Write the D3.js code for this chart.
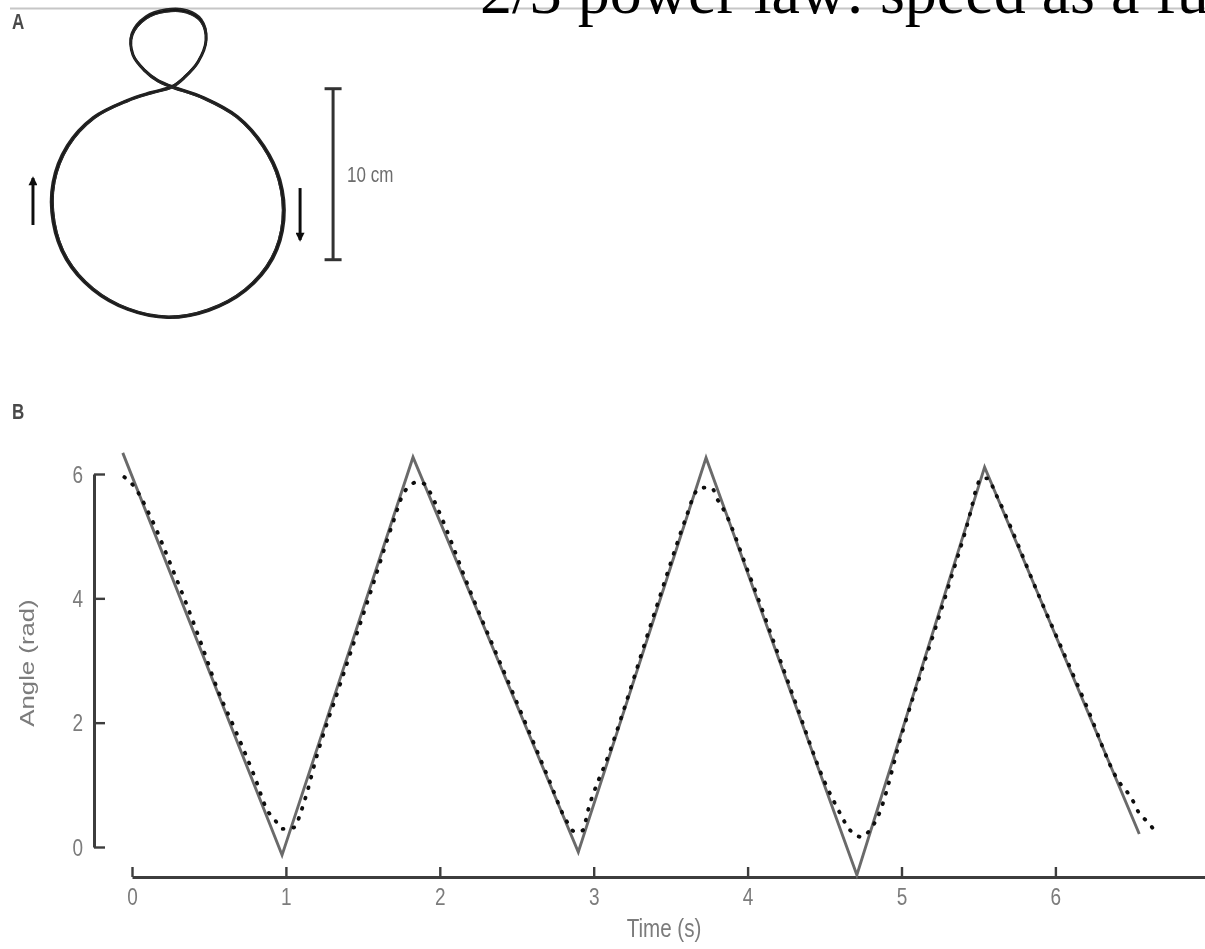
<!DOCTYPE html>
<html>
<head>
<meta charset="utf-8">
<script src="https://cdn.jsdelivr.net/npm/d3@7"></script>
<style>
  html, body { margin: 0; padding: 0; background: #fff; overflow: hidden; }
  svg { display: block; }
</style>
</head>
<body>
<svg id="fig" width="1205" height="949"></svg>
<script>
// ---------- Panel A: pen trajectory (cm, origin at the crossing point, y up) ----------
const traceX = [0, 1.87, 3.80, 5.32, 6.26, 6.49, 5.85, 4.27, 2.11, -0.23, -2.57, -4.62, -6.14, -6.90, -6.90, -6.08, -4.56, -2.63, -1.23,
                0, 0.70, 1.52, 1.99, 1.70, 0.88, -0.35, -1.52, -2.34, -2.28, -1.58, -0.82];
const traceY = [0, -0.66, -1.75, -3.45, -5.44, -7.78, -10.00, -11.87, -13.04, -13.45, -12.98, -11.81, -10.06, -7.89, -5.56, -3.45, -1.80, -0.82, -0.35,
                0, 0.53, 1.46, 2.75, 3.86, 4.39, 4.44, 4.04, 3.04, 1.87, 0.94, 0.35];

// direction arrows: x position, tail y, head y (cm)
const arrowX = [-8.13, 7.49];
const arrowTail = [-8.07, -5.91];
const arrowHead = [-5.32, -8.95];

// scale bar (cm)
const barX = 9.42;
const barFrom = -0.1;
const barLength = 10;
const barLabel = "10 cm";

// ---------- Panel B: angle vs time ----------
// piecewise-linear model prediction (vertices)
const modelTime  = [-0.06, 0.975, 1.826, 2.90, 3.73, 4.71, 5.54, 6.545];
const modelAngle = [6.34, -0.13, 6.27, -0.08, 6.26, -0.45, 6.11, 0.21];

// measured angle
const measTime  = [-0.05, 0.007, 0.13, 0.26, 0.344, 0.46, 0.55, 0.68, 0.80, 0.877, 0.93, 0.975, 1.06, 1.09, 1.14, 1.19,
                   1.35, 1.55, 1.70, 1.76, 1.80, 1.85, 1.90, 1.94, 1.985, 2.2, 2.5, 2.7, 2.83, 2.88, 2.93, 2.96,
                   3.1, 3.4, 3.6, 3.66, 3.68, 3.73, 3.77, 3.80, 3.85, 4.0, 4.3, 4.5, 4.61, 4.65, 4.70, 4.74, 4.78, 4.85,
                   5.0, 5.3, 5.45, 5.49, 5.52, 5.56, 5.61, 5.9, 6.2, 6.4, 6.50, 6.54, 6.60, 6.63];
const measAngle = [5.95, 5.82, 5.26, 4.49, 3.97, 3.2, 2.57, 1.83, 1.11, 0.6, 0.43, 0.29, 0.32, 0.51, 0.9, 1.37,
                   2.6, 4.1, 5.25, 5.67, 5.8, 5.87, 5.84, 5.69, 5.45, 4.1, 2.33, 1.14, 0.39, 0.24, 0.27, 0.56,
                   1.5, 3.8, 5.3, 5.7, 5.77, 5.78, 5.77, 5.61, 5.4, 4.45, 2.4, 1.05, 0.5, 0.32, 0.2, 0.16, 0.23, 0.51,
                   1.8, 4.15, 5.4, 5.8, 5.93, 5.93, 5.69, 4.0, 2.28, 1.1, 0.76, 0.56, 0.40, 0.31];

const timeTicks = [0, 1, 2, 3, 4, 5, 6];
const angleTicks = [0, 2, 4, 6];
const xTitle = "Time (s)";
const yTitle = "Angle (rad)";
const panelLabels = ["A", "B"];
const pageTitle = "2/3 power law: speed as a function of curvature";

// ---------- drawing ----------
const svg = d3.select("#fig");
const SANS = "'Liberation Sans', Arial, Helvetica, sans-serif";
const STRETCH = 1.25;           // figure text is set slightly tall
const LABEL_GREY = "#7b7b7b";
const AXIS_GREY = "#3d3d3d";

const defs = svg.append("defs");
defs.append("filter").attr("id", "soft")
  .attr("x", "-5%").attr("y", "-5%").attr("width", "110%").attr("height", "110%")
  .append("feGaussianBlur").attr("stdDeviation", 0.55);
defs.append("marker").attr("id", "head")
  .attr("viewBox", "0 0 10 10").attr("refX", 8).attr("refY", 5)
  .attr("markerWidth", 3.4).attr("markerHeight", 3.0).attr("markerUnits", "strokeWidth")
  .attr("orient", "auto")
  .append("path").attr("d", "M0,0 L10,5 L0,10 Z").attr("fill", "#111");

// header rule and title
svg.append("line")
  .attr("x1", 10).attr("x2", 1205).attr("y1", 8.5).attr("y2", 8.5)
  .attr("stroke", "#c6c6c6").attr("stroke-width", 2);
svg.append("text")
  .attr("x", 480).attr("y", 13)
  .attr("font-family", "'Liberation Serif', 'Times New Roman', serif")
  .attr("font-size", 64).attr("fill", "#000")
  .text(pageTitle);

const fig = svg.append("g").attr("filter", "url(#soft)");

function tallText(sel, x, y, extra) {
  return sel.attr("transform", `translate(${x},${y}) scale(1,${STRETCH})` + (extra || ""));
}

// ---- panel A ----
const pxPerCm = 17.1;
const xA = d3.scaleLinear().domain([0, 1]).range([172, 172 + pxPerCm]);
const yA = d3.scaleLinear().domain([0, 1]).range([87, 87 - pxPerCm]);
const tracePts = traceX.map((v, i) => [v, traceY[i]]);
const traceLine = d3.line().x(d => xA(d[0])).y(d => yA(d[1])).curve(d3.curveCatmullRomClosed.alpha(0.5));

// several repetitions of the same figure, drawn slightly apart
const gA = fig.append("g");
gA.append("path").attr("d", traceLine(tracePts))
  .attr("fill", "none").attr("stroke", "#151515").attr("stroke-width", 3.0);
gA.append("path").attr("d", traceLine(tracePts))
  .attr("transform", "translate(168,200) scale(1.014,1.01) translate(-168,-200)")
  .attr("fill", "none").attr("stroke", "#222").attr("stroke-width", 1.7);
gA.append("path").attr("d", traceLine(tracePts))
  .attr("transform", "translate(168,200) scale(0.992,0.994) translate(-168,-200)")
  .attr("fill", "none").attr("stroke", "#2a2a2a").attr("stroke-width", 1.2);

gA.selectAll("line.arrow").data(arrowX).join("line").attr("class", "arrow")
  .attr("x1", d => xA(d)).attr("x2", d => xA(d))
  .attr("y1", (d, i) => yA(arrowTail[i])).attr("y2", (d, i) => yA(arrowHead[i]))
  .attr("stroke", "#111").attr("stroke-width", 3).attr("marker-end", "url(#head)");

const barTop = yA(barFrom), barBot = yA(barFrom - barLength);
gA.append("line").attr("x1", xA(barX)).attr("x2", xA(barX)).attr("y1", barTop).attr("y2", barBot)
  .attr("stroke", "#333").attr("stroke-width", 3);
[barTop, barBot].forEach(yy => gA.append("line")
  .attr("x1", xA(barX) - 8.5).attr("x2", xA(barX) + 8.5).attr("y1", yy).attr("y2", yy)
  .attr("stroke", "#333").attr("stroke-width", 3));
tallText(gA.append("text"), xA(barX) + 14, (barTop + barBot) / 2)
  .attr("dy", "0.35em").attr("font-family", SANS).attr("font-size", 17)
  .attr("fill", "#6c6c6c").text(barLabel);

tallText(fig.append("text"), 12, 29).attr("font-family", SANS).attr("font-weight", "bold")
  .attr("font-size", 17).attr("fill", "#4a4a4a").text(panelLabels[0]);
tallText(fig.append("text"), 12, 419).attr("font-family", SANS).attr("font-weight", "bold")
  .attr("font-size", 17).attr("fill", "#4a4a4a").text(panelLabels[1]);

// ---- panel B ----
const x = d3.scaleLinear().domain([0, 7]).range([132, 132 + 7 * 153.9]);
const y = d3.scaleLinear().domain([0, 6]).range([847, 474]);
const gB = fig.append("g");

const xAxis = gB.append("g").attr("transform", "translate(0,877)")
  .call(d3.axisBottom(x).tickValues(timeTicks).tickFormat(d3.format("d"))
        .tickSizeInner(-10).tickSizeOuter(0));
const yAxis = gB.append("g").attr("transform", "translate(94,0)")
  .call(d3.axisLeft(y).tickValues(angleTicks).tickFormat(d3.format("d"))
        .tickSizeInner(-11).tickSizeOuter(0));

[xAxis, yAxis].forEach(ax => {
  ax.select(".domain").attr("stroke", AXIS_GREY).attr("stroke-width", 3);
  ax.selectAll(".tick line").attr("stroke", AXIS_GREY).attr("stroke-width", 2.4);
  ax.selectAll(".tick text").attr("font-family", SANS).attr("font-size", 19).attr("fill", LABEL_GREY);
});
xAxis.selectAll(".tick text").attr("y", null)
  .attr("transform", `translate(0,11.5) scale(1,${STRETCH})`).attr("dy", "0.71em");
yAxis.selectAll(".tick text").attr("x", null)
  .attr("transform", `translate(-11,0) scale(1,${STRETCH})`).attr("dy", "0.34em");

tallText(gB.append("text"), 664, 937).attr("text-anchor", "middle")
  .attr("font-family", SANS).attr("font-size", 20.6).attr("fill", LABEL_GREY).text(xTitle);
tallText(gB.append("text"), 34, 663, " rotate(-90)").attr("text-anchor", "middle")
  .attr("font-family", SANS).attr("font-size", 20.6).attr("fill", LABEL_GREY).text(yTitle);

const modelPts = modelTime.map((t, i) => [t, modelAngle[i]]);
gB.append("path")
  .attr("d", d3.line().x(d => x(d[0])).y(d => y(d[1]))(modelPts))
  .attr("fill", "none").attr("stroke", "#6b6b6b").attr("stroke-width", 2.9)
  .attr("stroke-linejoin", "miter");

const measPts = measTime.map((t, i) => [t, measAngle[i]]);
gB.append("path")
  .attr("d", d3.line().x(d => x(d[0])).y(d => y(d[1])).curve(d3.curveMonotoneX)(measPts))
  .attr("fill", "none").attr("stroke", "#111").attr("stroke-width", 3.8)
  .attr("stroke-linecap", "round").attr("stroke-dasharray", "0.8 10");
</script>
</body>
</html>
